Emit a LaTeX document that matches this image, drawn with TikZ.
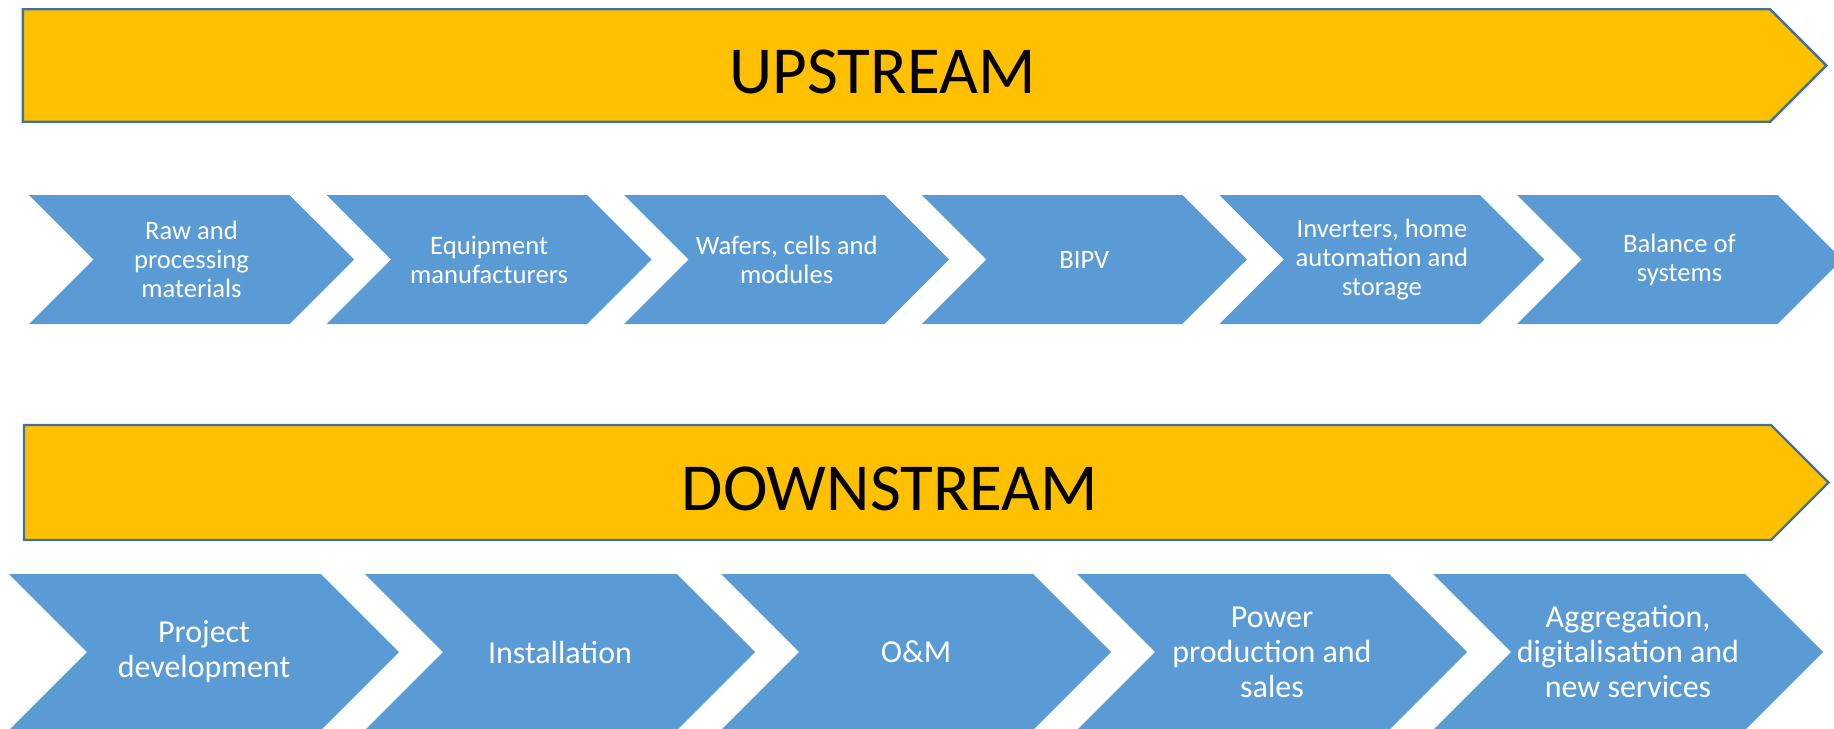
\documentclass[tikz,border=0pt]{standalone}
\usepackage{fontspec}
\setmainfont{Carlito}
\usepackage{tikz}
\usetikzlibrary{shapes,
                positioning}
\definecolor{bandyellow}{HTML}{FFC000}
\definecolor{bandblue}{HTML}{41719C}
\definecolor{stageblue}{HTML}{5B9BD5}
\tikzset{band/.style =
   {signal,
    signal to = east,
    signal pointer angle = 90,
    draw = bandblue,
    line width = 1.2pt,
    fill = bandyellow,
    inner sep = 0pt,
    minimum width = 901.75pt,
    minimum height = 56.25pt}}
\tikzset{band-label/.style =
   {font = \fontsize{33.6}{40}\selectfont,
    yshift = -3pt}}
\tikzset{stage/.style =
   {signal,
    signal from = west,
    signal to = east,
    signal pointer angle = 90,
    fill = stageblue,
    text = white,
    align = center,
    inner sep = 0pt}}
\tikzset{stage-up/.style =
   {stage,
    minimum width = 162.5pt,
    minimum height = 64.5pt,
    font = \fontsize{13.3}{14.5}\selectfont}}
\tikzset{stage-down/.style =
   {stage,
    minimum width = 195pt,
    minimum height = 78pt,
    font = \fontsize{16}{17.5}\selectfont}}

\begin{document}
\begin{tikzpicture}

    \useasboundingbox (0,0) rectangle (917pt,-364pt);
    \clip (0,0) rectangle (917pt,-364pt);

    % upstream chain
    \node [band,
           label={[band-label, xshift=-7pt]center:UPSTREAM}] (upstream)
          at (448.25pt,-32.75pt) {};

    \node [stage-up] (up0) at (95.75pt,-129.75pt)
    {Raw and\\processing\\materials};

    \node [stage-up,
           right = 148.8pt of up0.center,
           anchor = center] (up1)
    {Equipment\\manufacturers};

    \node [stage-up,
           right = 148.8pt of up1.center,
           anchor = center] (up2)
    {Wafers, cells and\\modules};

    \node [stage-up,
           right = 148.8pt of up2.center,
           anchor = center] (up3)
    {BIPV};

    \node [stage-up,
           right = 148.8pt of up3.center,
           anchor = center] (up4)
    {Inverters, home\\automation and\\storage};

    \node [stage-up,
           right = 148.8pt of up4.center,
           anchor = center] (up5)
    {Balance of\\systems};

    % downstream chain
    \node [band,
           minimum width = 902.25pt,
           minimum height = 57.5pt,
           label={[band-label, xshift=-3.75pt]center:DOWNSTREAM}] (downstream)
          at (448.75pt,-241.25pt) {};

    \node [stage-down] (down0) at (102pt,-326pt)
    {Project\\development};

    \node [stage-down,
           right = 178pt of down0.center,
           anchor = center] (down1)
    {Installation};

    \node [stage-down,
           right = 178pt of down1.center,
           anchor = center] (down2)
    {O\&M};

    \node [stage-down,
           right = 178pt of down2.center,
           anchor = center] (down3)
    {Power\\production and\\sales};

    \node [stage-down,
           right = 178pt of down3.center,
           anchor = center] (down4)
    {Aggregation,\\digitalisation and\\new services};

\end{tikzpicture}
\end{document}
